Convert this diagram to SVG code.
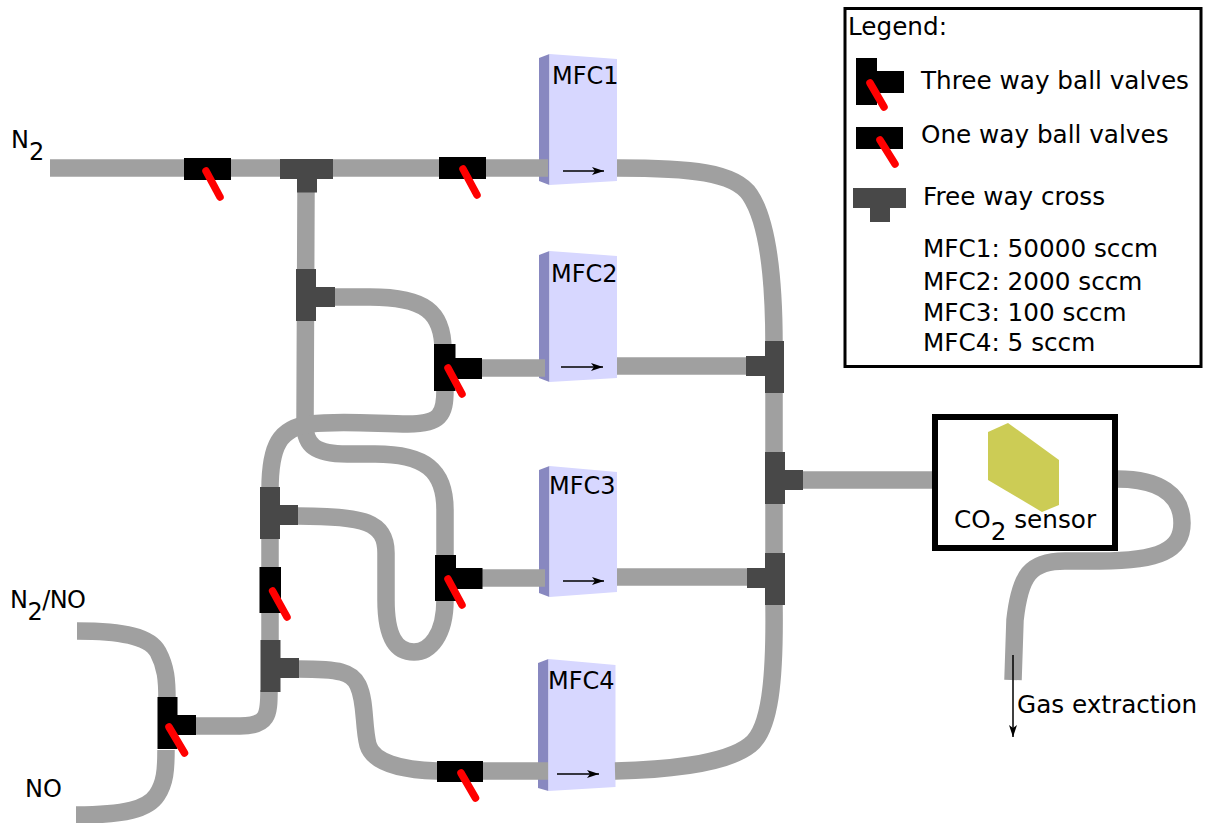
<svg xmlns="http://www.w3.org/2000/svg" width="1208" height="823" viewBox="0 0 1208 823">
<style>
text{font-family:"DejaVu Sans",sans-serif;font-size:24.7px;fill:#000}
.n{font-size:24px}
.pipe{fill:none;stroke:#a0a0a0;stroke-width:17.5}
.v{fill:#000}.c{fill:#484848}
.h{stroke:#f00;stroke-width:7.5;stroke-linecap:round;fill:none}
.side{fill:#8888c0}.front{fill:#d7d7ff}
.ar{stroke:#000;stroke-width:1.5;fill:none;marker-end:url(#ah)}
</style>
<defs><marker id="ah" markerUnits="userSpaceOnUse" markerWidth="12" markerHeight="10" refX="12" refY="4" orient="auto"><path d="M0,0L12,4L0,8L3,4Z" fill="#000"/></marker></defs>
<rect width="1208" height="823" fill="#fff"/>
<g id="mfc1"><polygon class="side" points="539,58 549.5,54 549.5,185 539,181"/><polygon class="front" points="549.5,54 617,59 617,181 549.5,185"/></g>
<g id="mfc2"><polygon class="side" points="539,255 549.5,251 549.5,382 539,378"/><polygon class="front" points="549.5,251 617,256 617,378 549.5,382"/></g>
<g id="mfc3"><polygon class="side" points="539,470 549.5,466 549.5,597 539,593"/><polygon class="front" points="549.5,466 617,472 617,592 549.5,597"/></g>
<g id="mfc4"><polygon class="side" points="538,663 548.5,659 548.5,791 538,788"/><polygon class="front" points="548.5,659 615.5,665 615.5,787 548.5,791"/></g>
<g id="connectors">
<path class="pipe" d="M50,168H548"/>
<path class="pipe" d="M306,190L305,425C305,445 315,454 347,454L375,454C425,454 445,470 445,510V600C445,635 430,652 414,652C395,652 386,635 386,600V553C386,522 365,516 298,516"/>
<path class="pipe" d="M334,297H370C425,297 443,312 443,350"/>
<path class="pipe" d="M445,390C445,415 440,424 408,424C380,424 340,420 310,424C280,428 270,445 270,490V690"/>
<path class="pipe" d="M269,690C269,715 268,726 240,726H196"/>
<path class="pipe" d="M298,669C340,669 352,672 358,685C366,702 363,725 368,745C373,762 400,770 437,771H548"/>
<path class="pipe" d="M77,631C125,631 150,637 158,652C166,667 167,680 167,700"/>
<path class="pipe" d="M76,815C125,815 148,809 157,795C165,783 166,770 166,750"/>
<path class="pipe" d="M482,368H545"/>
<path class="pipe" d="M482,578H545"/>
<path class="pipe" d="M617,168C690,168 735,172 750,195C770,225 774,290 774,345V605C775,680 770,730 750,745C725,765 660,770 615,771"/>
<path class="pipe" d="M617,366H750"/>
<path class="pipe" d="M617,577H750"/>
<path class="pipe" d="M800,480H934"/>
<path class="pipe" d="M1117,479C1160,479 1182,495 1182,523C1182,550 1160,561 1100,561H1065C1030,561 1020,575 1015,620L1013,680"/>
<path class="ar" d="M1013,655V737"/>
</g>
<g id="valve1"><rect class="v" x="184" y="158" width="47" height="22"/><path class="h" d="M206,171L220,197"/></g>
<g id="cross1"><path class="c" d="M280,159H333V179H317V192.500H297V179H280Z"/></g>
<g id="valve2"><rect class="v" x="439" y="157" width="47" height="22"/><path class="h" d="M463,169L477,195"/></g>
<g id="cross2"><path class="c" d="M296,269H316V287H335V307H316V321H296Z"/></g>
<g id="valve3"><path class="v" d="M434,344H455.500V358H482V379H455.500V391H434Z"/><path class="h" d="M448,368L462,394"/></g>
<g id="cross3"><path class="c" d="M260,487H280V505H298V525H280V539H260Z"/></g>
<g id="valve4"><path class="v" d="M435,555H456V568H482.500V589H456V601H435Z"/><path class="h" d="M448,579L462,605"/></g>
<g id="valve5"><rect class="v" x="259.500" y="567" width="21.500" height="46"/><path class="h" d="M272.600,591L287,617"/></g>
<g id="cross4"><path class="c" d="M260.500,640H280.500V658H299V678H280.500V692H260.500Z"/></g>
<g id="valve6"><path class="v" d="M157.500,697H177.500V715H196V735H177.500V749H157.500Z"/><path class="h" d="M169,727L184.500,753"/></g>
<g id="valve7"><rect class="v" x="437" y="761" width="46" height="21"/><path class="h" d="M461,773L475.500,798"/></g>
<g id="cross5"><path class="c" d="M765,341H784V393H765V376H746V356H765Z"/></g>
<g id="cross6"><path class="c" d="M765,452H785V470H803V490H785V504H765Z"/></g>
<g id="cross7"><path class="c" d="M765,553H785V605H765V588H747V568H765Z"/></g>
<g id="mfc-labels">
<text class="n" x="552" y="84">MFC1</text><path class="ar" d="M563,171H604"/>
<text class="n" x="551" y="282">MFC2</text><path class="ar" d="M561,367H603"/>
<text class="n" x="549" y="494">MFC3</text><path class="ar" d="M563,581H604"/>
<text class="n" x="548" y="689">MFC4</text><path class="ar" d="M557,774H599"/>
</g>
<g id="sensor">
<rect x="935" y="417" width="180" height="131" fill="#fff" stroke="#000" stroke-width="6"/>
<polygon points="988,432 1008,423 1059,460 1059,505 1042,512 988,480" fill="#cccc55"/>
<text x="954" y="528">CO<tspan dy="12">2</tspan><tspan dy="-12"> sensor</tspan></text>
</g>
<g id="labels">
<text class="n" x="11" y="148">N<tspan dy="12">2</tspan></text>
<text class="n" x="10" y="608" textLength="76">N<tspan dy="12">2</tspan><tspan dy="-12">/NO</tspan></text>
<text class="n" x="25" y="797">NO</text>
<text x="1017" y="713">Gas extraction</text>
</g>
<g id="legend">
<rect x="845" y="8.500" width="356" height="358" fill="none" stroke="#000" stroke-width="3"/>
<text x="848" y="35">Legend:</text>
<path class="v" d="M856,58H877V71H904V93H877V105H856Z"/><path class="h" d="M870,83L884,107"/>
<text x="921" y="89">Three way ball valves</text>
<rect class="v" x="856" y="127" width="47" height="22"/><path class="h" d="M880,140L895,164"/>
<text x="921" y="143">One way ball valves</text>
<path class="c" d="M853,188H906V208H890V222H870V208H853Z"/>
<text x="923" y="205">Free way cross</text>
<text x="923" y="257">MFC1: 50000 sccm</text>
<text x="923" y="290">MFC2: 2000 sccm</text>
<text x="923" y="321">MFC3: 100 sccm</text>
<text x="923" y="351">MFC4: 5 sccm</text>
</g>
</svg>
